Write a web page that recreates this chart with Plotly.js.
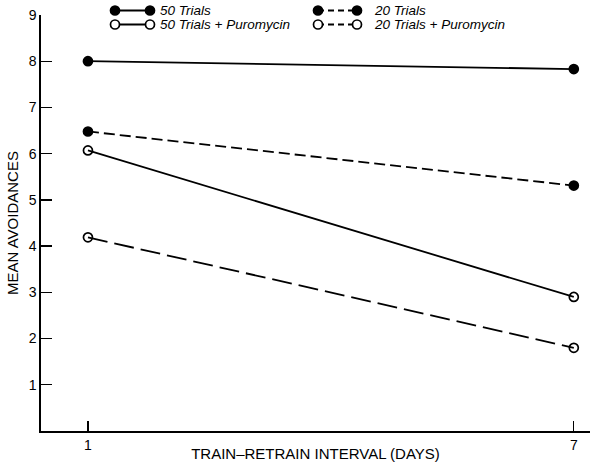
<!DOCTYPE html>
<html>
<head>
<meta charset="utf-8">
<script src="https://cdn.plot.ly/plotly-3.0.1.min.js"></script>
<style>html,body{margin:0;padding:0;background:#fff}#chart{width:590px;height:462px}</style>
</head>
<body>
<div id="chart"></div>
<script>
// ---- data ----
const days = [1, 7];
const trials50 = [8.0, 7.83];
const trials20 = [6.48, 5.31];
const trials50Puro = [6.07, 2.90];
const trials20Puro = [4.19, 1.80];
const seriesNames = ['50 Trials', '20 Trials', '50 Trials + Puromycin', '20 Trials + Puromycin'];
const yTickVals = [1, 2, 3, 4, 5, 6, 7, 8, 9];
const xTickVals = [1, 7];
const xTickText = ['1', '7'];

// ---- layout geometry (pixels) ----
const W = 590, H = 462;
const M = {l: 41, r: 0, t: 15, b: 31};
const pw = W - M.l - M.r, ph = H - M.t - M.b;
const px2x = p => (p - M.l) / pw;
const py2y = p => (H - M.b - p) / ph;

function series(y, filled, dash, name) {
  return {
    x: days, y: y, name: name, type: 'scatter', mode: 'lines+markers',
    line: {color: '#000', width: 1.8, dash: dash},
    marker: {size: 9, symbol: filled ? 'circle' : 'circle-open', color: '#000',
             line: {color: '#000', width: 1.7}},
    showlegend: false, cliponaxis: false
  };
}

const traces = [
  series(trials50, true, 'solid', seriesNames[0]),
  series(trials20, true, '11px,5px', seriesNames[1]),
  series(trials50Puro, false, 'solid', seriesNames[2]),
  series(trials20Puro, false, '20px,7px', seriesNames[3])
];

// ---- hand-drawn legend (two columns, markers at both ends) ----
const legendItems = [
  {name: seriesNames[0], filled: true, dash: 'solid', x1: 115, x2: 150, tx: 158, py: 10.5},
  {name: seriesNames[2], filled: false, dash: 'solid', x1: 115, x2: 150, tx: 158, py: 24.5},
  {name: seriesNames[1], filled: true, dash: '6px,4px', x1: 318, x2: 357, tx: 372, py: 10.5},
  {name: seriesNames[3], filled: false, dash: '6px,4px', x1: 318, x2: 357, tx: 372, py: 24.5}
];
const shapes = [], annotations = [];
legendItems.forEach(it => {
  const y = py2y(it.py);
  shapes.push({type: 'line', xref: 'paper', yref: 'paper', x0: px2x(it.x1), x1: px2x(it.x2), y0: y, y1: y,
               line: {color: '#000', width: 1.8, dash: it.dash}});
  [it.x1, it.x2].forEach(cx => {
    shapes.push({type: 'circle', xref: 'paper', yref: 'paper', xsizemode: 'pixel', ysizemode: 'pixel',
                 xanchor: px2x(cx), yanchor: y, x0: -4.5, x1: 4.5, y0: -4.5, y1: 4.5,
                 fillcolor: it.filled ? '#000' : '#fff', line: {color: '#000', width: 1.7}});
  });
  annotations.push({xref: 'paper', yref: 'paper', x: px2x(it.tx), y: y, xanchor: 'left', yanchor: 'middle',
                    text: '<i>' + it.name + '</i>', showarrow: false,
                    font: {family: 'Liberation Sans, Arial, sans-serif', size: 13.5, color: '#000'}});
});

const layout = {
  width: W, height: H, margin: M, paper_bgcolor: '#fff', plot_bgcolor: '#fff',
  font: {family: 'Liberation Sans, Arial, sans-serif', color: '#000', size: 14},
  showlegend: false,
  xaxis: {
    range: [0.42, 7.2], tickvals: xTickVals, ticktext: xTickText,
    ticks: 'inside', ticklen: 10, tickwidth: 1.3, tickcolor: '#000',
    showline: true, linecolor: '#000', linewidth: 1.7, showgrid: false, zeroline: false,
    tickfont: {size: 14},
    title: {text: 'TRAIN–RETRAIN INTERVAL (DAYS)', standoff: 0, font: {size: 15}}
  },
  yaxis: {
    range: [0, 9], tickvals: yTickVals,
    ticks: 'inside', ticklen: 11, tickwidth: 1.3, tickcolor: '#000',
    showline: true, linecolor: '#000', linewidth: 1.7, showgrid: false, zeroline: false,
    tickfont: {size: 14},
    title: {text: 'MEAN AVOIDANCES', standoff: 6, font: {size: 15}}
  },
  shapes: shapes, annotations: annotations
};

Plotly.newPlot('chart', traces, layout, {staticPlot: true, displayModeBar: false});
</script>
</body>
</html>
